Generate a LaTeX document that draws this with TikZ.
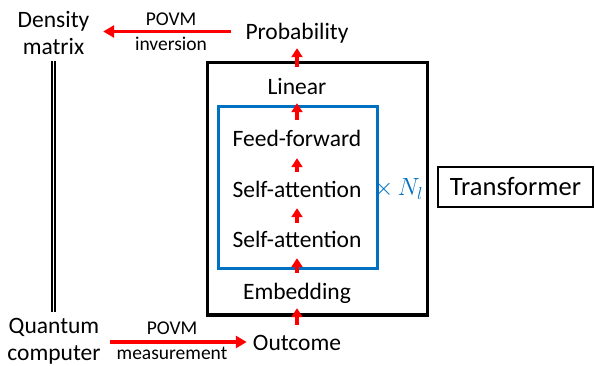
\documentclass[tikz,border=0pt]{standalone}
\usepackage{fontspec}
\setmainfont{Carlito}
\usetikzlibrary{arrows.meta}
\definecolor{boxblue}{RGB}{0,112,192}
\begin{document}
\begin{tikzpicture}[x=1pt,y=-1pt,
  lbl/.style={inner sep=0pt, font=\fontsize{23.5}{28}\selectfont, text height=16pt, text depth=4.6pt},
  ml/.style={inner sep=0pt, align=center, font=\fontsize{23.5}{27.5}\selectfont},
  small/.style={inner sep=0pt, font=\fontsize{19.5}{23}\selectfont},
  uparr/.style={draw=red, line width=3.5pt, -{Triangle[width=11pt,length=9pt]}},
  harr/.style={draw=red, line width=3.5pt, -{Triangle[width=12pt,length=11pt]}},
]
\useasboundingbox (0,0) rectangle (595,366);
% boxes
\node[draw, line width=3.3pt, minimum width=220pt, minimum height=252.3pt, inner sep=0pt] (tbox) at (317.6,188.9) {};
\node[draw=boxblue, line width=2.6pt, minimum width=158.8pt, minimum height=162.4pt, inner sep=0pt] (bbox) at (298.1,187.5) {};
\node[draw, line width=2.5pt, minimum width=155pt, minimum height=40pt, inner sep=0pt, font=\fontsize{26.5}{30}\selectfont] (tf) at (515.5,187) {Transformer};
\node[text=boxblue, inner sep=0pt, font=\fontsize{23}{27}\selectfont] (rep) at (398.5,189) {$\times\,N_l$};
% text nodes
\node[ml] (dens) at (53.5,33) {Density\\matrix};
\node[ml] (qc) at (54,341.5) {Quantum\\computer};
\node[lbl] (prob) at (297,34) {Probability};
\node[lbl] (lin) at (297,89) {Linear};
\node[lbl] (ff) at (297,141) {Feed-forward};
\node[lbl] (sa2) at (297,192) {Self-attention};
\node[lbl] (sa1) at (297,242) {Self-attention};
\node[lbl] (emb) at (297,294) {Embedding};
\node[lbl] (out) at (297,345) {Outcome};
\node[small] (l1) at (171,19) {POVM};
\node[small] (l2) at (171,44) {inversion};
\node[small] (l3) at (172,328) {POVM};
\node[small] (l4) at (172,353) {measurement};
% connectors
\draw[harr, shorten <=14pt, shorten >=13.7pt] ([yshift=2.5pt]prob.west) -- ([yshift=2.5pt]dens.east |- prob.west);
\draw[harr, shorten <=9pt, shorten >=6pt] ([yshift=3pt]qc.east |- out.west) -- ([yshift=3pt]out.west);
\draw[double, double distance=1.9pt, line width=1.5pt, shorten <=6pt, shorten >=6pt] (dens.south) -- (dens.south |- qc.north);
\draw[uparr, shorten <=9.7pt, shorten >=3.7pt] (out.north) -- (emb.south);
\draw[uparr, shorten <=10.7pt, shorten >=5.7pt] (emb.north) -- (sa1.south);
\draw[uparr, shorten <=8.7pt, shorten >=5.7pt] (sa1.north) -- (sa2.south);
\draw[uparr, shorten <=9.7pt, shorten >=6.7pt] (sa2.north) -- (ff.south);
\draw[uparr, shorten <=10.7pt, shorten >=3.7pt] (ff.north) -- (lin.south);
\draw[uparr, shorten <=11.7pt, shorten >=3.7pt] (lin.north) -- (prob.south);
\end{tikzpicture}
\end{document}
